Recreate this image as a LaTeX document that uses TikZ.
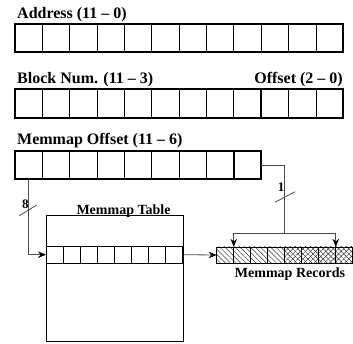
\documentclass[tikz,border=0pt]{standalone}
\usepackage{fontspec}
\setmainfont{Liberation Serif}
\usetikzlibrary{arrows.meta, positioning, patterns.meta, calc}

\begin{document}
\begin{tikzpicture}[
    x=1pt, y=-1pt,
    reg/.style={rectangle, draw, line width=0.8pt, minimum width=27.36pt, minimum height=28.3pt, inner sep=0pt, outer sep=0pt},
    slot/.style={rectangle, draw, line width=0.7pt, minimum width=17.09pt, minimum height=16.3pt, inner sep=0pt, outer sep=0pt},
    hatched/.style={slot, pattern={Lines[angle=-45, distance=3.6pt, line width=0.45pt]}, pattern color=black!80},
    crossed/.style={hatched, postaction={pattern={Lines[angle=45, distance=3.6pt, line width=0.45pt]}, pattern color=black!80}},
    heading/.style={font=\fontsize{16}{18}\selectfont\bfseries, inner sep=0pt},
    tag/.style={font=\fontsize{14}{16}\selectfont\bfseries, inner sep=0pt},
    buswidth/.style={font=\fontsize{13}{15}\selectfont\bfseries, inner sep=0pt},
    wire/.style={draw=black!70, line width=0.8pt},
    arrow/.style={wire, -{Stealth[length=8pt,width=6.5pt,black]}}
]
\useasboundingbox (0,0) rectangle (353,343);

% Address register
\node[heading, anchor=base west] (addr) at (17,18) {Address (11 -- 0)};
\foreach \i in {1,...,12}
    \node[reg] (a\i) at ({15+27.36*(\i-0.5)},38.2) {};
\draw[line width=2pt] (a1.north west) rectangle (a12.south east);

% Block number / offset split
\node[heading, anchor=base west] (blk) at (17,83) {Block Num. (11 -- 3)};
\node[heading, anchor=base east] (off) at (343,83) {Offset (2 -- 0)};
\foreach \i in {1,...,12}
    \node[reg] (b\i) at ({15+27.36*(\i-0.5)},103.5) {};
\draw[line width=2pt] (b1.north west) rectangle (b12.south east);
\draw[line width=1.6pt] (b9.north east) -- (b9.south east);

% Memmap offset bits
\node[heading, anchor=base west] (mmo) at (17,144) {Memmap Offset (11 -- 6)};
\foreach \i in {1,...,9}
    \node[reg] (m\i) at ({15+27.36*(\i-0.5)},164.9) {};
\draw[line width=2pt] (m1.north west) rectangle (m9.south east);
\draw[line width=1.6pt] (m8.north east) -- (m8.south east);

% Memmap table
\node[rectangle, draw, line width=0.8pt, minimum width=136.7pt, minimum height=126pt, anchor=north west, inner sep=0pt] (table) at (46,215) {};
\node[tag, anchor=base] (tname) at (123.5,214) {Memmap Table};
\foreach \i in {1,...,8}
    \node[slot, fill=white] (t\i) at ({46+17.09*(\i-0.5)},254.7) {};

% Memmap records
\foreach \i in {1,...,4}
    \node[hatched] (r\i) at ({216.7+17*(\i-0.5)},255) {};
\foreach \i in {5,...,8}
    \node[crossed] (r\i) at ({216.7+17*(\i-0.5)},255) {};
\node[tag, anchor=base] (rname) at (290,277.5) {Memmap Records};

% Wires
\coordinate (split) at (284.3,233);
\draw[arrow] (m1.south) |- (t1.west);
\draw[arrow] (t8.east) -- (r1.west);
\draw[wire] (m9.east) -| (split);
\draw[arrow] (split) -| (r1.north east);
\draw[arrow] (split) -| (r7.north east);

% Bus widths
\draw[wire] (19.3,215.7) -- (36.7,205);
\node[buswidth] (w8) at (25.3,204) {8};
\draw[wire] (275,202.3) -- (295,191.7);
\node[buswidth] (w1) at (281,187.5) {1};

\end{tikzpicture}
\end{document}
